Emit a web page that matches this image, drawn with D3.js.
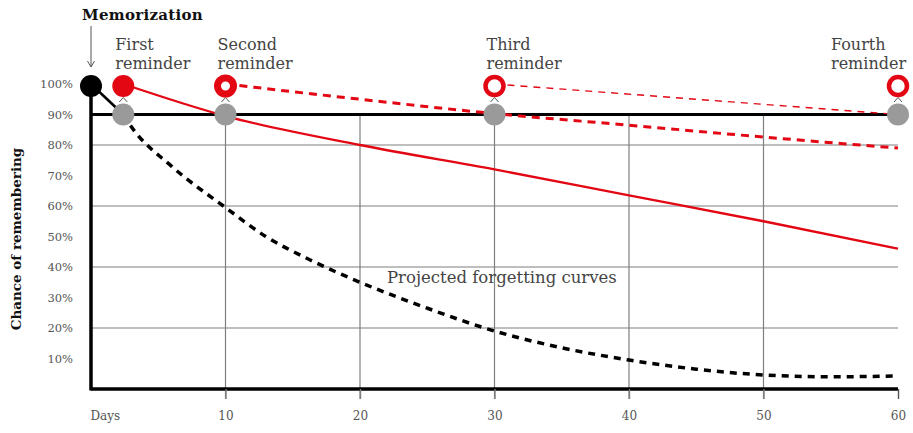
<!DOCTYPE html>
<html>
<head>
<meta charset="utf-8">
<script src="https://cdn.jsdelivr.net/npm/d3@7"></script>
<style>
  html, body { margin: 0; padding: 0; background: #fff; }
  svg { display: block; }
</style>
</head>
<body>
<svg id="chart" width="913" height="433"></svg>
<script>
// ---------- data ----------
const xTickValues = [0, 10, 20, 30, 40, 50, 60];
const xTickLabels = ["Days", "10", "20", "30", "40", "50", "60"];
const yTickValues = [10, 20, 30, 40, 50, 60, 70, 80, 90, 100];
const yTickLabels = ["10%", "20%", "30%", "40%", "50%", "60%", "70%", "80%", "90%", "100%"];
const gridValues = [20, 40, 60, 80];
const gridDays = [10, 20, 30, 40, 50];
const thresholdValue = 90;

const memorizationDay = 0;
const memorizationValue = 100;
const reminderDays = [2.4, 10, 30, 60];
const reminderValue = 100;
const retainedValue = 90;
const reminderLabels = [["First", "reminder"], ["Second", "reminder"], ["Third", "reminder"], ["Fourth", "reminder"]];

// initial drop from memorization to first check
const initialDrop = [[0, 100], [2.4, 90]];
// projected forgetting curves (day, %)
const curveNoReminder = [[2.4, 90], [3, 86], [6, 73], [10, 59.5], [13, 50], [16.3, 42.3], [20, 35], [25, 26.5],
  [30, 19], [35, 13.5], [40, 9.5], [45, 6.5], [50, 4.6], [55, 4], [60, 4.3]];
const curveFirst = [[2.4, 100], [10, 89.5], [20, 80], [30, 72], [40, 63.5], [50, 55], [60, 46]];
const curveSecond = [[10, 100], [20, 95], [30, 90.3], [40, 86.5], [50, 82.6], [60, 79]];
const curveThird = [[30, 100], [60, 90]];

// ---------- drawing ----------
const RED = "#e30613";
const GREY = "#9a9a9a";
const FONT = "'DejaVu Serif', 'Liberation Serif', serif";

const svg = d3.select("#chart");
const x = d3.scaleLinear().domain([0, 60]).range([91, 898]);
const y = d3.scaleLinear().domain([0, 100]).range([389, 84]);
const line = d3.line().x(d => x(d[0])).y(d => y(d[1]));
const curve = d3.line().x(d => x(d[0])).y(d => y(d[1])).curve(d3.curveMonotoneX);

// horizontal grid
svg.append("g").selectAll("line").data(gridValues).join("line")
  .attr("x1", x(0)).attr("x2", x(60))
  .attr("y1", d => y(d)).attr("y2", d => y(d))
  .attr("stroke", "#7f7f7f").attr("stroke-width", 1.2);

// vertical grid
svg.append("g").selectAll("line").data(gridDays).join("line")
  .attr("x1", d => x(d)).attr("x2", d => x(d))
  .attr("y1", y(thresholdValue)).attr("y2", y(0) + 10)
  .attr("stroke", "#7f7f7f").attr("stroke-width", 1.2);

// 90% line
svg.append("line")
  .attr("x1", x(0)).attr("x2", x(60))
  .attr("y1", y(thresholdValue)).attr("y2", y(thresholdValue))
  .attr("stroke", "#000").attr("stroke-width", 3);

// y axis labels
const yAxis = d3.axisLeft(y).tickValues(yTickValues).tickSize(0).tickPadding(0)
  .tickFormat((d, i) => yTickLabels[i]);
svg.append("g").attr("transform", "translate(73,0)").call(yAxis)
  .attr("font-size", 11.5)
  .call(g => g.select(".domain").remove())
  .selectAll("text")
  .attr("font-family", FONT).attr("fill", "#555");

// x axis
const xAxis = d3.axisBottom(x).tickValues(xTickValues).tickSize(10).tickPadding(12)
  .tickFormat((d, i) => xTickLabels[i]);
const gx = svg.append("g").attr("transform", `translate(0,${y(0)})`).call(xAxis)
  .attr("font-size", 12);
gx.select(".domain").attr("stroke", "#000").attr("stroke-width", 3.5).attr("d", `M${x(0)},0H${x(60)}`);
gx.selectAll(".tick line").attr("stroke", (d) => d === 60 ? "#555" : "#7f7f7f").attr("stroke-width", 1.4)
  .attr("opacity", d => d === 0 ? 0 : 1);
gx.selectAll(".tick text")
  .attr("font-family", FONT).attr("fill", "#555")
  .attr("text-anchor", d => d === 0 ? "start" : "middle")
  .attr("dx", d => d === 0 ? -1 : 0);

// y axis line
svg.append("line")
  .attr("x1", x(0)).attr("x2", x(0))
  .attr("y1", y(memorizationValue)).attr("y2", y(0) + 1.5)
  .attr("stroke", "#000").attr("stroke-width", 3.5);

// curves
svg.append("path").attr("d", line(initialDrop))
  .attr("fill", "none").attr("stroke", "#000").attr("stroke-width", 2.5);
svg.append("path").attr("d", curve(curveNoReminder))
  .attr("fill", "none").attr("stroke", "#000").attr("stroke-width", 3.5)
  .attr("stroke-dasharray", "7,6");
svg.append("path").attr("d", curve(curveFirst))
  .attr("fill", "none").attr("stroke", RED).attr("stroke-width", 2.3);
svg.append("path").attr("d", curve(curveSecond))
  .attr("fill", "none").attr("stroke", RED).attr("stroke-width", 3)
  .attr("stroke-dasharray", "8,6");
svg.append("path").attr("d", line(curveThird))
  .attr("fill", "none").attr("stroke", RED).attr("stroke-width", 1.4)
  .attr("stroke-dasharray", "7,6");

// chevrons between reminder and retained marks
const chevron = d3.line();
svg.append("g").selectAll("path").data(reminderDays).join("path")
  .attr("d", d => chevron([[x(d) - 4, 102], [x(d), 97.5], [x(d) + 4, 102]]))
  .attr("fill", "none").attr("stroke", "#555").attr("stroke-width", 1);

// grey retained circles
svg.append("g").selectAll("circle").data(reminderDays).join("circle")
  .attr("cx", d => x(d)).attr("cy", y(retainedValue)).attr("r", 11)
  .attr("fill", GREY);

// memorization circle
svg.append("circle").attr("cx", x(memorizationDay)).attr("cy", y(memorizationValue) + 2).attr("r", 11)
  .attr("fill", "#000");

// reminder circles
svg.append("g").selectAll("circle").data(reminderDays).join("circle")
  .attr("cx", d => x(d)).attr("cy", y(reminderValue) + 2)
  .attr("r", (d, i) => i === 0 ? 11 : (i === 1 ? 8 : 9))
  .attr("fill", (d, i) => i === 0 ? RED : "#fff")
  .attr("stroke", RED)
  .attr("stroke-width", (d, i) => i === 0 ? 0 : (i === 1 ? 7 : 4.5));

// reminder labels
const lx = (d, i) => i === 3 ? x(d) - 67 : x(d) - 8;
const lbl = svg.append("g").selectAll("text").data(reminderDays).join("text")
  .attr("x", lx)
  .attr("font-family", FONT).attr("font-size", 16).attr("fill", "#444");
lbl.append("tspan").attr("y", 50).text((d, i) => reminderLabels[i][0]);
lbl.append("tspan").attr("y", 69).attr("x", lx)
  .text((d, i) => reminderLabels[i][1]);

// memorization label + arrow
svg.append("text").attr("x", 82).attr("y", 20)
  .attr("font-family", FONT).attr("font-weight", "bold").attr("font-size", 15).attr("fill", "#111")
  .attr("letter-spacing", 0.3)
  .text("Memorization");
svg.append("line").attr("x1", x(0)).attr("x2", x(0)).attr("y1", 26).attr("y2", 67)
  .attr("stroke", "#555").attr("stroke-width", 1);
svg.append("path").attr("d", d3.line()([[x(0) - 3.5, 61], [x(0), 67], [x(0) + 3.5, 61]]))
  .attr("fill", "none").attr("stroke", "#555").attr("stroke-width", 1);

// curve annotation
svg.append("text").attr("x", 387).attr("y", 283)
  .attr("font-family", FONT).attr("font-size", 16.5).attr("fill", "#444")
  .text("Projected forgetting curves");

// y title
svg.append("text")
  .attr("transform", "translate(21,239) rotate(-90)")
  .attr("text-anchor", "middle")
  .attr("font-family", FONT).attr("font-weight", "bold").attr("font-size", 13.5).attr("fill", "#111")
  .text("Chance of remembering");
</script>
</body>
</html>
